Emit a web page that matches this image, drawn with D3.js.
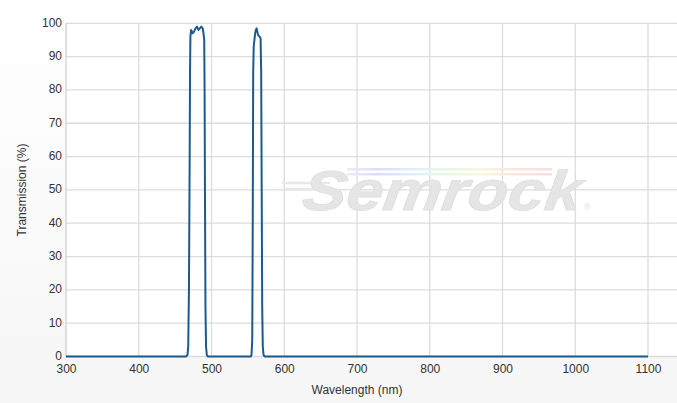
<!DOCTYPE html>
<html>
<head>
<meta charset="utf-8">
<script src="https://cdn.jsdelivr.net/npm/d3@7/dist/d3.min.js"></script>
<style>
  html, body { margin: 0; padding: 0; }
  body { width: 677px; height: 403px; overflow: hidden; }
  text { font-family: "Liberation Sans", Arial, sans-serif; }
</style>
</head>
<body>
<svg id="chart" width="677" height="403"></svg>
<script>
// ---- data ----
const wavelength = [300, 465, 467, 468, 469, 470, 470.5, 471, 472, 474, 476, 478, 480, 482, 484, 486, 488, 489, 490, 490.5, 491, 491.7, 492.5, 493.5, 495,
                    554, 555, 556, 556.7, 557.3, 558, 559, 560, 561, 562, 563, 564, 566, 567.5, 568.3, 569, 569.7, 570.5, 571.5, 573, 1100];
const transmission = [0, 0, 0.5, 3, 20, 60, 85, 96, 98, 97, 97.5, 98.5, 99, 98, 98.5, 99, 98.5, 97, 95, 80, 50, 15, 3, 0.5, 0,
                      0, 0.5, 5, 40, 85, 93, 95, 97, 98, 98.5, 97.5, 96.5, 96, 95.5, 85, 50, 15, 3, 0.5, 0, 0];
const xTicks = [300, 400, 500, 600, 700, 800, 900, 1000, 1100];
const yTicks = [0, 10, 20, 30, 40, 50, 60, 70, 80, 90, 100];
const xTitle = "Wavelength (nm)";
const yTitle = "Transmission (%)";

const W = 677, H = 403;
const svg = d3.select("#chart");
const defs = svg.append("defs");

const bg = defs.append("linearGradient").attr("id", "bg").attr("x1", 0).attr("y1", 0).attr("x2", 0).attr("y2", 1);
bg.append("stop").attr("offset", "0%").attr("stop-color", "#ffffff");
bg.append("stop").attr("offset", "100%").attr("stop-color", "#f6f6f6");

const rb = defs.append("linearGradient").attr("id", "rainbow").attr("x1", 0).attr("y1", 0).attr("x2", 1).attr("y2", 0);
[["0%", "#ececf4"], ["15%", "#dcdcfa"], ["35%", "#e0f2fa"], ["50%", "#e4f8e0"], ["65%", "#f8f8dc"], ["80%", "#fae8dc"], ["100%", "#f6e0e0"]]
  .forEach(([o, c]) => rb.append("stop").attr("offset", o).attr("stop-color", c));

svg.append("rect").attr("width", W).attr("height", H).attr("fill", "url(#bg)");

const x = d3.scaleLinear().domain([300, 1100]).range([66, 648]);
const y = d3.scaleLinear().domain([0, 100]).range([356.5, 23.3]);

// plot background
svg.append("rect").attr("x", 66).attr("y", y(100)).attr("width", W - 66).attr("height", y(0) - y(100)).attr("fill", "#ffffff");

// horizontal grid
svg.append("g").selectAll("line").data(yTicks).join("line")
  .attr("x1", 66).attr("x2", W).attr("y1", d => y(d)).attr("y2", d => y(d))
  .attr("stroke", "#dcdcdc").attr("stroke-width", 1.3);
// vertical grid
svg.append("g").selectAll("line").data(xTicks.slice(1)).join("line")
  .attr("x1", d => x(d)).attr("x2", d => x(d)).attr("y1", y(100)).attr("y2", y(0))
  .attr("stroke", "#dcdcdc").attr("stroke-width", 1.3);
// left axis line
svg.append("line").attr("x1", 66).attr("x2", 66).attr("y1", y(100)).attr("y2", y(0))
  .attr("stroke", "#cfcfcf").attr("stroke-width", 1.3);

// watermark
const wm = svg.append("g");
wm.append("rect").attr("x", 347).attr("y", 168).attr("width", 205).attr("height", 2.5).attr("fill", "url(#rainbow)");
wm.append("rect").attr("x", 347).attr("y", 173).attr("width", 205).attr("height", 2.5).attr("fill", "url(#rainbow)");
wm.append("path").attr("d", "M282,183 L330,183 M285,189 L320,189")
  .attr("stroke", "#e8e8e8").attr("stroke-width", 2.5).attr("fill", "none");
wm.append("text").attr("transform", "translate(440,210) skewX(-8) scale(1.18,1)").attr("text-anchor", "middle")
  .attr("font-size", 56).attr("font-weight", "bold").attr("font-style", "italic")
  .attr("fill", "#e5e5e5").attr("stroke", "#dedede").attr("stroke-width", 0.8)
  .text("Semrock");
wm.append("text").attr("x", 584).attr("y", 210).attr("font-size", 9).attr("fill", "#e2e2e2").text("®");

// data line
const line = d3.line().x((d, i) => x(wavelength[i])).y(d => y(d));
svg.append("path").datum(transmission).attr("d", line)
  .attr("fill", "none").attr("stroke", "#1d5a8c").attr("stroke-width", 2).attr("stroke-linejoin", "round");

// axes labels
const yAxis = d3.axisLeft(y).tickValues(yTicks).tickSize(0).tickPadding(4).tickFormat(d3.format("d"));
const gy = svg.append("g").attr("transform", "translate(66,0)").call(yAxis);
gy.select(".domain").remove();
gy.selectAll("text").attr("font-size", 12).attr("fill", "#333").attr("dy", "0.25em")
  .attr("font-family", "Liberation Sans, Arial, sans-serif");

const xAxis = d3.axisBottom(x).tickValues(xTicks).tickSize(0).tickPadding(8).tickFormat(d3.format("d"));
const gx = svg.append("g").attr("transform", `translate(0,${y(0)})`).call(xAxis);
gx.select(".domain").remove();
gx.selectAll("text").attr("font-size", 12).attr("fill", "#333").attr("font-family", "Liberation Sans, Arial, sans-serif");

svg.append("text").attr("x", 357).attr("y", 394).attr("text-anchor", "middle")
  .attr("font-size", 12).attr("fill", "#333").text(xTitle);
svg.append("text").attr("transform", "translate(26,190) rotate(-90)").attr("text-anchor", "middle")
  .attr("font-size", 12).attr("fill", "#333").text(yTitle);
</script>
</body>
</html>
